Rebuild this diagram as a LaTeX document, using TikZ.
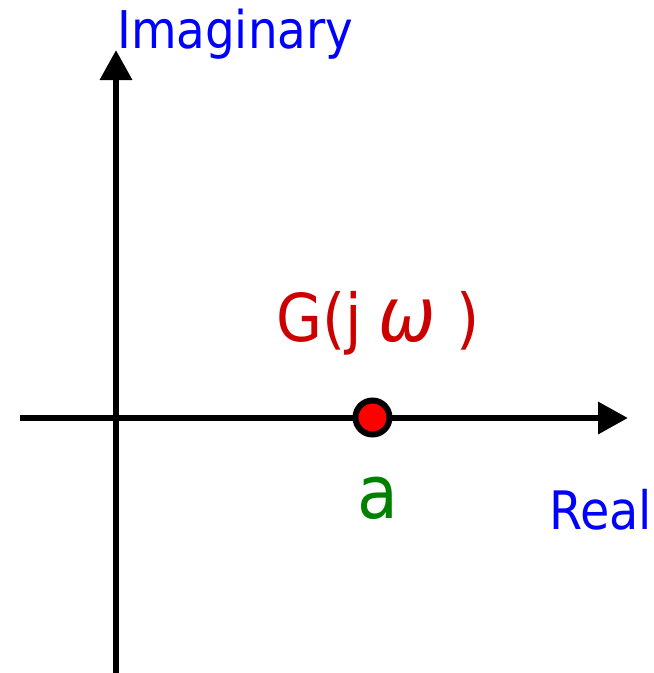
\documentclass[tikz,border=0pt]{standalone}
\usepackage{fontspec}
\setmainfont{DejaVu Sans}[FakeStretch=0.9]
\usetikzlibrary{arrows.meta,positioning,calc}
\definecolor{axlabel}{RGB}{0,0,255}
\definecolor{gred}{RGB}{204,0,0}
\definecolor{dotred}{RGB}{255,0,0}
\definecolor{agreen}{RGB}{0,128,0}
\tikzset{axis/.style={line width=6.5pt,black,-{Triangle[length=30pt,width=31pt]}},
  axtext/.style={inner sep=0pt,text=axlabel,font=\fontsize{52}{52}\selectfont},
  pointdot/.style={circle,draw=black,fill=dotred,line width=6pt,minimum size=34pt,inner sep=0pt}}

\begin{document}
\begin{tikzpicture}[x=1pt,y=-1pt]
\useasboundingbox (0,0) rectangle (654,673);
\coordinate (xs) at (20,418); \coordinate (xe) at (628,418);
\coordinate (ys) at (116,673); \coordinate (ye) at (116,50);
\draw[axis] (xs) -- (xe); \draw[axis] (ys) -- (ye);
\node[pointdot] (pt) at (372.5,417.5) {};
\node[axtext,anchor=base west] (im) at (117,48) {Imaginary};
\node[axtext,anchor=base west,font=\fontsize{53}{53}\selectfont] (re) at (549,529) {Real};
\node[inner sep=0pt,anchor=base west,text=gred,font=\fontsize{66}{66}\selectfont] (g) at (276,341)
  {G(j\hspace{17pt}{\fontsize{76}{76}\selectfont\textit{ω}}\hspace{20pt})};
\node[inner sep=0pt,anchor=base,text=agreen,font=\fontsize{74}{74}\selectfont] (a) at (378,518) {a};
\end{tikzpicture}
\end{document}
